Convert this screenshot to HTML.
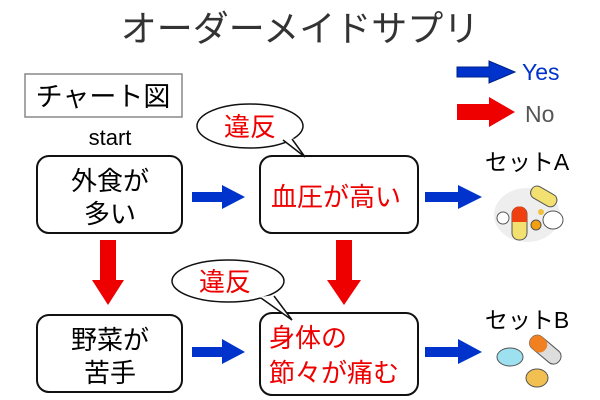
<!DOCTYPE html>
<html><head><meta charset="utf-8"><style>
html,body{margin:0;padding:0;background:#fff;}
svg{display:block;font-family:"Liberation Sans","Noto Sans CJK JP",sans-serif;}
</style></head><body>
<svg width="600" height="400" viewBox="0 0 600 400">
<text x="300" y="41" font-size="36" fill="#333" text-anchor="middle">オーダーメイドサプリ</text>
<rect x="25" y="74" width="157" height="43" fill="#fff" stroke="#888" stroke-width="1.5"/>
<text x="103" y="106" font-size="27" text-anchor="middle">チャート図</text>
<text x="110" y="145" font-size="22" text-anchor="middle">start</text>
<polygon points="457,67 489,67 489,61 515,72 489,83 489,77 457,77" fill="#0033cc" stroke="#002288"/>
<text x="522" y="80" font-size="23" fill="#0033cc">Yes</text>
<polygon points="457,104 489,104 489,97 515,112 489,127 489,120 457,120" fill="#ee0000"/>
<text x="525" y="122" font-size="23" fill="#555">No</text>
<rect x="37" y="156" width="145" height="77" rx="12" fill="#fff" stroke="#111" stroke-width="2"/>
<text x="110" y="190" font-size="26" text-anchor="middle">外食が</text>
<text x="110" y="223" font-size="26" text-anchor="middle">多い</text>
<rect x="260" y="156" width="158" height="77" rx="12" fill="#fff" stroke="#111" stroke-width="2"/>
<text x="336" y="206" font-size="26" fill="#ee0000" text-anchor="middle">血圧が高い</text>
<rect x="37" y="315" width="145" height="77" rx="12" fill="#fff" stroke="#111" stroke-width="2"/>
<text x="110" y="349" font-size="26" text-anchor="middle">野菜が</text>
<text x="110" y="382" font-size="26" text-anchor="middle">苦手</text>
<rect x="260" y="313" width="158" height="82" rx="12" fill="#fff" stroke="#111" stroke-width="2"/>
<text x="269" y="347" font-size="26" fill="#ee0000">身体の</text>
<text x="269" y="382" font-size="26" fill="#ee0000">節々が痛む</text>
<ellipse cx="250" cy="126" rx="53" ry="22" fill="#fff" stroke="#111" stroke-width="1.5"/>
<path d="M282,140 L304,156 L293,138 Z" fill="#fff"/>
<path d="M283,140 L305,157 L292,139" fill="none" stroke="#111" stroke-width="1.5"/>
<text x="250" y="136" font-size="26" fill="#ee0000" text-anchor="middle">違反</text>
<ellipse cx="228" cy="281" rx="56" ry="21" fill="#fff" stroke="#111" stroke-width="1.5"/>
<path d="M260,297 L292,320 L275,295 Z" fill="#fff"/>
<path d="M261,298 L292,320 L274,296" fill="none" stroke="#111" stroke-width="1.5"/>
<text x="225" y="291" font-size="26" fill="#ee0000" text-anchor="middle">違反</text>
<polygon points="192,192 222,192 222,185 245,197 222,209 222,202 192,202" fill="#0033cc"/>
<polygon points="425,192 458,192 458,185 482,197 458,209 458,202 425,202" fill="#0033cc"/>
<polygon points="192,347 222,347 222,339 245,352 222,364 222,357 192,357" fill="#0033cc"/>
<polygon points="425,347 458,347 458,339 482,352 458,364 458,357 425,357" fill="#0033cc"/>
<polygon points="100,240 116,240 116,280 124,280 108,305 92,280 100,280" fill="#ee0000"/>
<polygon points="336,240 352,240 352,280 361,280 344,305 327,280 336,280" fill="#ee0000"/>
<text x="527" y="170" font-size="23" text-anchor="middle">セットA</text>
<text x="527" y="328" font-size="23" text-anchor="middle">セットB</text>
<ellipse cx="527" cy="215" rx="33" ry="27" fill="#eee"/>
<rect x="512" y="207" width="15" height="33" rx="7" fill="#f2e070" stroke="#555"/>
<path d="M512,222 v-8 a7,7 0 0 1 15,0 v8 z" fill="#ee4010"/>
<rect x="530" y="190" width="28" height="13" rx="6" fill="#f2e070" stroke="#555" transform="rotate(30 544 196)"/>
<circle cx="503" cy="218" r="6" fill="#fff" stroke="#555"/>
<circle cx="536" cy="225" r="5" fill="#f2a010" stroke="#555"/>
<circle cx="541" cy="212" r="3" fill="#f2c040"/>
<ellipse cx="553" cy="220" rx="10" ry="9" fill="#fff" stroke="#555"/>
<ellipse cx="510" cy="357" rx="13" ry="9" fill="#9de0ef" stroke="#555"/>
<rect x="527" y="342" width="36" height="15" rx="7" fill="#ddd" stroke="#555" transform="rotate(40 545 350)"/>
<rect x="527" y="342" width="18" height="15" rx="7" fill="#f08020" transform="rotate(40 545 350)"/>
<ellipse cx="537" cy="378" rx="11" ry="9" fill="#f2c050" stroke="#555"/>
</svg>
</body></html>
